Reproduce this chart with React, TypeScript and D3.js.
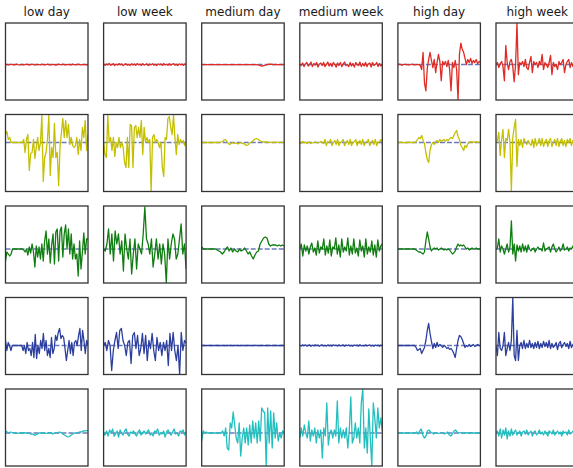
import React from "react";
import * as d3 from "d3";

const columnTitles = ["low day", "low week", "medium day", "medium week", "high day", "high week"];
const rowColors = ["#e02b25", "#c4c000", "#0f7d0f", "#2c3f9e", "#22bfbf"];
const rowDomains: [number, number][] = [[-35, 41], [-49, 28], [-34, 43], [-29, 48], [-33, 44]];

// Row 1 (red)
const r1LowDay = [0, 0.2, -0.3, 0, 0.3, 0, -0.2, 0, 0.4, 0, -0.3, 0, 0.2, -0.4, 0, 0.3, 0, -0.2, 0, 0.5, 0, -0.3, 0, 0.2, 0, -0.4, 0.3, 0, -0.2, 0, 0.4, 0, -0.3, 0, 0.2, 0, -0.5, 0, 0.3, 0, -0.2, 0.3, 0, -0.4, 0, 0.2, 0, -0.3, 0.4, 0, -0.2, 0, 0.3, 0, -0.4, 0, 0.2, 0, -0.3, 0];
const r1LowWeek = [0.5, -0.8, 0.6, -0.3, 1, -0.7, 0.2, 0.8, -1, 0.4, -0.5, 0.9, -0.2, 0.6, -1.1, 0.3, 0.7, -0.6, 0.2, -0.9, 0.8, -0.4, 0.5, -0.8, 1, -0.3, 0.4, -0.7, 0.9, -0.5, 0.2, 0.7, -1, 0.5, -0.3, 0.8, -0.6, 0.3, -0.9, 0.7, -0.2, 0.6, -0.8, 1, -0.4, 0.3, -0.7, 0.8, -0.5, 0.2, 0.9, -0.6, 0.4, -1, 0.7, -0.3, 0.5, -0.8, 0.6, -0.2];
const r1MedDay = [0, 0, 0, 0, 0, 0, 0, 0, 0, 0, 0, 0, 0, 0, 0, 0, 0, 0, 0, 0, 0, 0, 0, 0, 0, 0, 0, 0, 0, 0, 0, 0, 0, 0, 0, 0, 0, 0, 0, 0, -0.3, -0.6, -1, -1.5, -1.2, -0.8, -0.3, 0, 0.3, 0.5, 0.3, 0, 0, 0.2, 0, 0, 0, 0.2, 0, 0];
const r1MedWeek = [0, -1, 1.5, -2, 0.5, 2, -1.5, 0, 2.5, -2, 1, -0.5, 2, -2.5, 0.5, 1.5, -1, 2, -2, 0, 2.5, -1.5, 1, -2, 2, 0, -2.5, 1.5, -1, 2, -2, 0.5, 2.5, -1, 0, -2, 2, -1.5, 1, -2.5, 2, 0, -1, 2.5, -2, 1, -1.5, 2, -2, 0.5, 1.5, -2.5, 2, -1, 0, 2, -2, 1, -1.5, 0.5];
const r1HighDay = [0, 0.5, 0, -0.5, 0, 0.3, 0, 0, -0.3, 0, 0.5, 0, -0.4, 0, 0.2, 0, -1, -5, 12, -18, -26, -4, 5, 12, 4, -3, 5, -8, 2, 10, 3, -16, 3, 0, 3, -2, 4, -5, -26, 2, -3, 4, -5, -35, 10, 21, 15, 12, 6, 0, 5, 2, 6, 1, 4, 2, 5, 1, 3, 2];
const r1HighWeek = [0, 2, -3, 1, 3, -2, -16, 19, 2, -5, 3, 5, -2, -17, 0, 41, -10, 2, 0, 3, -2, 5, -3, -5, 2, 8, -8, 3, 0, 2, -3, 3, 0, 10, -5, 2, 0, -3, 2, 9, -10, 2, -2, 0, -5, 3, 0, 2, 5, -8, 0, 3, 5, -3, 2, -2, 3, 0, -2, 1];

// Row 2 (yellow)
const r2LowDay = [8, 11, 3, 5, 0, 0, 0, 0, 0, 0, 0, 0, 0, 3, -10, 3, 8, -28, -11, -10, 3, -16, -5, 5, -8, 0, 27, -39, -15, -10, 3, 27, -33, -5, -15, 19, -15, -10, -43, -5, 10, 24, 5, 22, 5, 18, -2, 5, -3, -5, -3, 5, -12, 3, -8, 15, 5, 22, -8, 8];
const r2LowWeek = [0, -12, -15, 27, 0, 5, -8, 5, -14, 0, -5, 5, -5, 0, -5, -20, -25, 5, -25, 18, 17, -25, 15, 17, 5, 15, 5, 22, -12, 15, 0, 5, 0, 3, -49, 5, 8, 0, 3, 0, -5, 0, -25, -34, 5, 3, 24, 26, 15, 8, 27, 5, -12, 8, -2, 3, 0, 2, -3, 1];
const r2MedDay = [0, 0, 0, 0, 0, 0, 0, 0, 0, 0, 0, 0, 0, 0, 0.5, 1, 2.5, 3, 1, -1, -2, -1, 0, -1, -0.5, -1, -1.5, -0.5, 0, -1, -1, -2, -3, -2.5, -1, 0, 1, 2, 3.5, 4, 3.5, 2.5, 1.5, 1, 0.5, 0.5, 0.5, 0.5, 0, 0.5, 0, 0, 0.5, 0, 0.5, 0, 0, 0.5, 0, 0];
const r2MedWeek = [0, -1, 1, -0.5, 0.5, -1, 0, 0.5, -1, -0.5, 0, 0.5, 0, -0.5, 0, 1, 0, -1, 3, -3, 1, 0, 3, -3, 0, 2, -2, 3, -3, 0, 1, 3, -3, 0, 2, -2, 3, -3, 0, 1, 3, -3, 0, 2, -2, 3, -3, 0, 1, 3, -3, 0, 2, -2, 3, -3, 0, 1, 3, -2];
const r2HighDay = [0, 0, 0.3, 0, 0, -0.3, 0, 0, 0.3, 0, 0, 0, 0, 1, 3, 5, 4, 7, 2, -1, -10, -17, -20, -8, -2, 0, -2, 1, 2, 0, 3, 1, 2, 3, 1, 3, 2, 4, 5, 4, 7, 10, 12, 6, 3, -3, -5, -8, -3, -5, -1, 0, 1, 0, 1, 0, 1, 0, 0.5, 0];
const r2HighWeek = [0, 2, 10, -13, 3, 13, -15, 4, 2, 13, 0, -48, 5, 15, 23, -24, 3, -3, 3, -5, 4, 0, -2, 2, -1, -3, 3, -5, 4, -3, 0, 4, -3, 4, -4, 1, 3, -4, 2, 4, -4, 0, 3, -3, 4, -4, 1, 4, -3, 2, -4, 3, 0, 4, -3, 2, -2, 3, -1, 0];

// Row 3 (green)
const r3LowDay = [-12, -3, -5, -7, -5, 0, 0, 0, 0, 0, 0, 0, 0, -1, -3, 0, -6, 2, -4, 5, -3, -18, 3, -8, 2, -10, 5, -12, 8, 18, -5, 10, -14, 4, 15, -15, 17, 20, -12, 18, 22, -8, 15, 24, 0, 20, -5, 15, -10, 5, -10, -5, -27, 8, -20, -3, 16, -5, 10, 10];
const r3LowWeek = [0, -2, 5, 20, -5, 15, -12, 18, 5, 15, -5, 8, -22, 15, 0, -10, 10, -25, -5, 10, -20, 5, 0, -5, 15, 42, 10, 5, -5, 10, -18, -5, 10, -10, 5, -15, 5, -5, -34, 10, -10, 5, 15, 10, -10, -5, 10, 25, -5, 5, -20];
const r3MedDay = [2, 0, 0, 0, 0, 0, 0, 0, 0, -1, -2, -3, -5, -3, 0, 2, -2, 1, -3, 0, -2, -3, 0, -2, -1, 1, -2, -5, -3, -7, -10, -6, -3, -2, 5, 8, 11, 12, 11, 5, 3, 4, 4, 4, 3, 4, 3, 4, 3];
const r3MedWeek = [0, 5, -7, 4, -2, 3, -5, 2, 6, -3, 1, -6, 8, -4, 2, 0, 10, -6, 3, -4, 9, -7, 2, 0, 11, -5, 4, -8, 10, -3, 2, -2, 11, -6, 3, -5, 10, -4, 1, -7, 9, -2, 3, -8, 10, -5, 2, -3, 8, -6, 4, -8, 9, -2, 3, 5];
const r3HighDay = [0, 0, 0, 0, 0, 0, 0, 0, 0, 0, 0, 0, 0, -1, -2, -3, -3, -4, -5, -3, 8, 17, 10, 2, -2, 0, 1, 0, 1, -1, 0, 1, 0, -1, 0, -1, 0, -1, -3, -5, -4, -2, 2, 5, 3, 4, 3, 4, 2, 0, 1, -1, 0, 1, 0, 0, 1, 0, 0, 0];
const r3HighWeek = [0, 1, 10, -3, 3, 0, -5, 0, 5, -3, 2, 28, -5, 5, -12, 4, -2, 3, -3, 5, -2, 3, -3, 4, 0, -2, 0, 1, -3, 0, 2, 0, 0, -2, 6, -2, 0, 1, 2, -3, 2, 5, 0, -3, -1, 2, -2, 0, 5, -1, 0, 2, -2, 1, 0, 3, -1, 2, -2, 0];

// Row 4 (blue)
const r4LowDay = [5, -5, 3, 0, -5, 0, 0, 0, 0, 0, 0, 0, 0, -5, 0, -8, 3, -5, -3, -10, 3, -12, 11, -13, 0, -8, 5, -3, 12, -5, 5, -10, -3, -12, 8, -8, -3, 10, 5, 13, 17, 7, 10, 8, -3, -15, -5, 5, -8, 3, -10, 3, 5, 0, 10, 17, -5, 15, 5, -8, 5, 0];
const r4LowWeek = [0, 3, -5, 5, 0, -25, -5, 5, 13, -3, 15, 17, 5, 0, -10, 3, 5, -18, 10, 13, -3, 10, -10, -3, 12, -8, 10, -15, 5, -3, 12, -5, -15, 8, -5, 3, -10, 3, -5, 5, -20, 12, -5, 13, -5, -15, 0, -29, 13, -5, 5, 2];
const r4MedDay = [0, 0.2, 0, -0.2, 0, 0, 0.2, 0, -0.2, 0, 0.2, 0, 0, -0.2, 0, 0.2, 0, -0.2, 0, 0, 0.2, 0, -0.2, 0, 0.2, 0, 0, -0.2, 0, 0.2, 0, -0.2, 0, 0, 0.2, 0, -0.2, 0, 0.2, 0, 0, -0.2, 0, 0.2, 0, -0.2, 0, 0, 0.2, 0, -0.2, 0, 0.2, 0, 0, -0.2, 0, 0.2, 0, 0];
const r4MedWeek = [0, -0.5, 0.6, -0.3, 0.7, -0.6, 0.2, 0.5, -0.7, 0.3, -0.4, 0.6, -0.2, 0.4, -0.8, 0.3, 0.5, -0.4, 0.2, -0.6, 0.6, -0.3, 0.4, -0.6, 0.7, -0.2, 0.3, -0.5, 0.6, -0.4, 0.2, 0.5, -0.7, 0.4, -0.2, 0.6, -0.5, 0.2, -0.6, 0.5, -0.2, 0.4, -0.6, 0.7, -0.3, 0.2, -0.5, 0.6, -0.4, 0.2, 0.6, -0.5, 0.3, -0.7, 0.5, -0.2, 0.4, -0.6, 0.4, -0.1];
const r4HighDay = [0, 0, 0, 0, 0, 0, 0, 0, 0, 0, 0, 0, 0, -2, -5, -4, -3, -8, -5, -2, 5, 15, 22, 12, 4, -3, 2, -2, 3, -1, 1, 0, -2, 0, -1, -3, -2, -4, -3, -5, -8, -12, -3, 5, 10, 9, 6, 2, -2, 0, -1, 1, -1, 0, 1, -1, 0, 1, 0, 0];
const r4HighWeek = [0, -10, 13, -3, -5, 0, 13, -10, -3, 3, -5, 5, 48, -10, -15, 15, -15, 0, 3, -3, 5, -3, 2, -2, 5, -2, 2, -3, 3, -2, 4, -3, 2, -2, 4, -1, 3, -2, 5, -3, 2, -2, 0, 3, -4, 2, 4, -2, 1, 3, -1, 2, -3, 4, -2, 1, 3, -2, 2, 0];

// Row 5 (cyan)
const r5LowDay = [2, 1, 0, 1, 0.5, 0, 0, -0.5, 0, 0, 0, 0.3, 0, 0, -0.5, -1, -1, -2, -2, -1, 0, 0, 0.3, 0, -0.5, 0, 0.3, 0, -1, 0, 0, 0.5, 1, 0.5, -1, -2, -3, -4, -3.5, -2, -1, 0, 0, 0.5, 1, 1, 2, 2, 2.5, 2];
const r5LowWeek = [0, -2, 2, -3, 3, 0, 4, -3, -1, 2, -4, 3, 0, -2, 2, 4, -1, -3, 1, 0, 2, -1, -3, 1, 3, -2, 0, 2, -1, 1, 3, -2, 0, -3, 2, 1, 4, -2, 0, -1, 2, -4, 1, 3, 0, -2, 1, 4, -1, 0, -3, 2, 1, 3, -2, 1];
const r5MedDay = [-8, 2, 0, 1, 0, 0, 0, 0, 0, 0, 0, 0, 0, 0, 2, -3, 5, -15, -17, 10, 5, 21, 8, -5, -10, 10, -23, -5, 5, -10, 5, -12, 8, -10, 12, -5, 10, -10, 12, -8, 25, 22, 20, -33, 25, -10, 22, -15, 20, -5, 10, -8, 0, -5, 2, 0];
const r5MedWeek = [-5, 5, -3, 8, 0, -5, 12, -8, 3, -3, 5, -10, 3, -5, 3, -25, 5, -3, 30, -12, 0, 3, -5, 3, -3, 32, -10, 5, -5, 3, -5, 5, -15, 3, 36, -10, -5, 10, -5, 5, -10, 30, 44, -15, 5, -20, 24, -5, -33, 30, 15, -5, 25, 5, 15, 2];
const r5HighDay = [0, 0, 0, 0, 0, 0, 0, 0, 0, 0, 0, 0, 1, -1, 2, 4, -2, -5, -3, 2, 3, 1, 0, -1, 0.5, 0, -0.5, 0, 0.5, 0, -1, 0, 1, -2, -3, -1, 2, 3, 1, 0, 0.5, 0, -0.5, 0, 0.3, 0, 0, 0.3, 0, 0, 0, 0, 0, 0];
const r5HighWeek = [0, 2, -3, 4, -5, 3, -2, 5, -6, 2, -3, 4, -2, 1, 3, -2, 0, 2, -3, 1, 2, -1, 3, -2, 0, 2, -3, 1, 2, -2, 0, 3, -1, 1, -2, 2, 0, -3, 2, 1, -1, 3, -2, 0, 2, -1, 1, -3, 2, 0, 1, -2, 3, -1, 0, 2, -2, 1, 0, 1];

const grid: number[][][] = [
  [r1LowDay, r1LowWeek, r1MedDay, r1MedWeek, r1HighDay, r1HighWeek],
  [r2LowDay, r2LowWeek, r2MedDay, r2MedWeek, r2HighDay, r2HighWeek],
  [r3LowDay, r3LowWeek, r3MedDay, r3MedWeek, r3HighDay, r3HighWeek],
  [r4LowDay, r4LowWeek, r4MedDay, r4MedWeek, r4HighDay, r4HighWeek],
  [r5LowDay, r5LowWeek, r5MedDay, r5MedWeek, r5HighDay, r5HighWeek],
];

const W = 573;
const H = 468;
const colX0 = 5.5;
const colPitch = 98.1;
const panelW = 82.5;
const rowY0 = 23;
const rowPitch = 91.5;
const panelH = 77;

export default function App() {
  return (
    <>
      <style>{`body{margin:0;}`}</style>
      <svg width={W} height={H} style={{ display: "block", background: "#fff" }}>
        <defs>
          {grid.map((row, r) =>
            row.map((_, c) => {
              const x0 = colX0 + c * colPitch;
              const y0 = rowY0 + r * rowPitch;
              return (
                <clipPath id={`clip-${r}-${c}`} key={`cp-${r}-${c}`}>
                  <rect x={x0} y={y0} width={panelW} height={panelH} />
                </clipPath>
              );
            })
          )}
        </defs>
        {columnTitles.map((t, c) => (
          <text
            key={t}
            x={colX0 + c * colPitch + panelW / 2}
            y={16}
            textAnchor="middle"
            fontFamily="DejaVu Sans"
            fontSize={12}
            fill="#1a1a1a"
          >
            {t}
          </text>
        ))}
        {grid.map((row, r) =>
          row.map((vals, c) => {
            const x0 = colX0 + c * colPitch;
            const y0 = rowY0 + r * rowPitch;
            const x = d3.scaleLinear().domain([0, vals.length - 1]).range([x0, x0 + panelW]);
            const y = d3.scaleLinear().domain(rowDomains[r]).range([y0 + panelH, y0]);
            const line = d3
              .line<number>()
              .x((_, i) => x(i))
              .y((v) => y(v));
            return (
              <g key={`p-${r}-${c}`}>
                <rect x={x0} y={y0} width={panelW} height={panelH} fill="#fff" />
                <g clipPath={`url(#clip-${r}-${c})`}>
                  <line
                    x1={x0}
                    x2={x0 + panelW}
                    y1={y(0)}
                    y2={y(0)}
                    stroke="#3a4ca6"
                    strokeOpacity={0.75}
                    strokeWidth={1.5}
                    strokeDasharray="5,2"
                  />
                  <path d={line(vals) || ""} fill="none" stroke={rowColors[r]} strokeWidth={1.3} strokeLinejoin="round" />
                </g>
                <rect x={x0} y={y0} width={panelW} height={panelH} fill="none" stroke="#333" strokeWidth={1.3} />
              </g>
            );
          })
        )}
      </svg>
    </>
  );
}
